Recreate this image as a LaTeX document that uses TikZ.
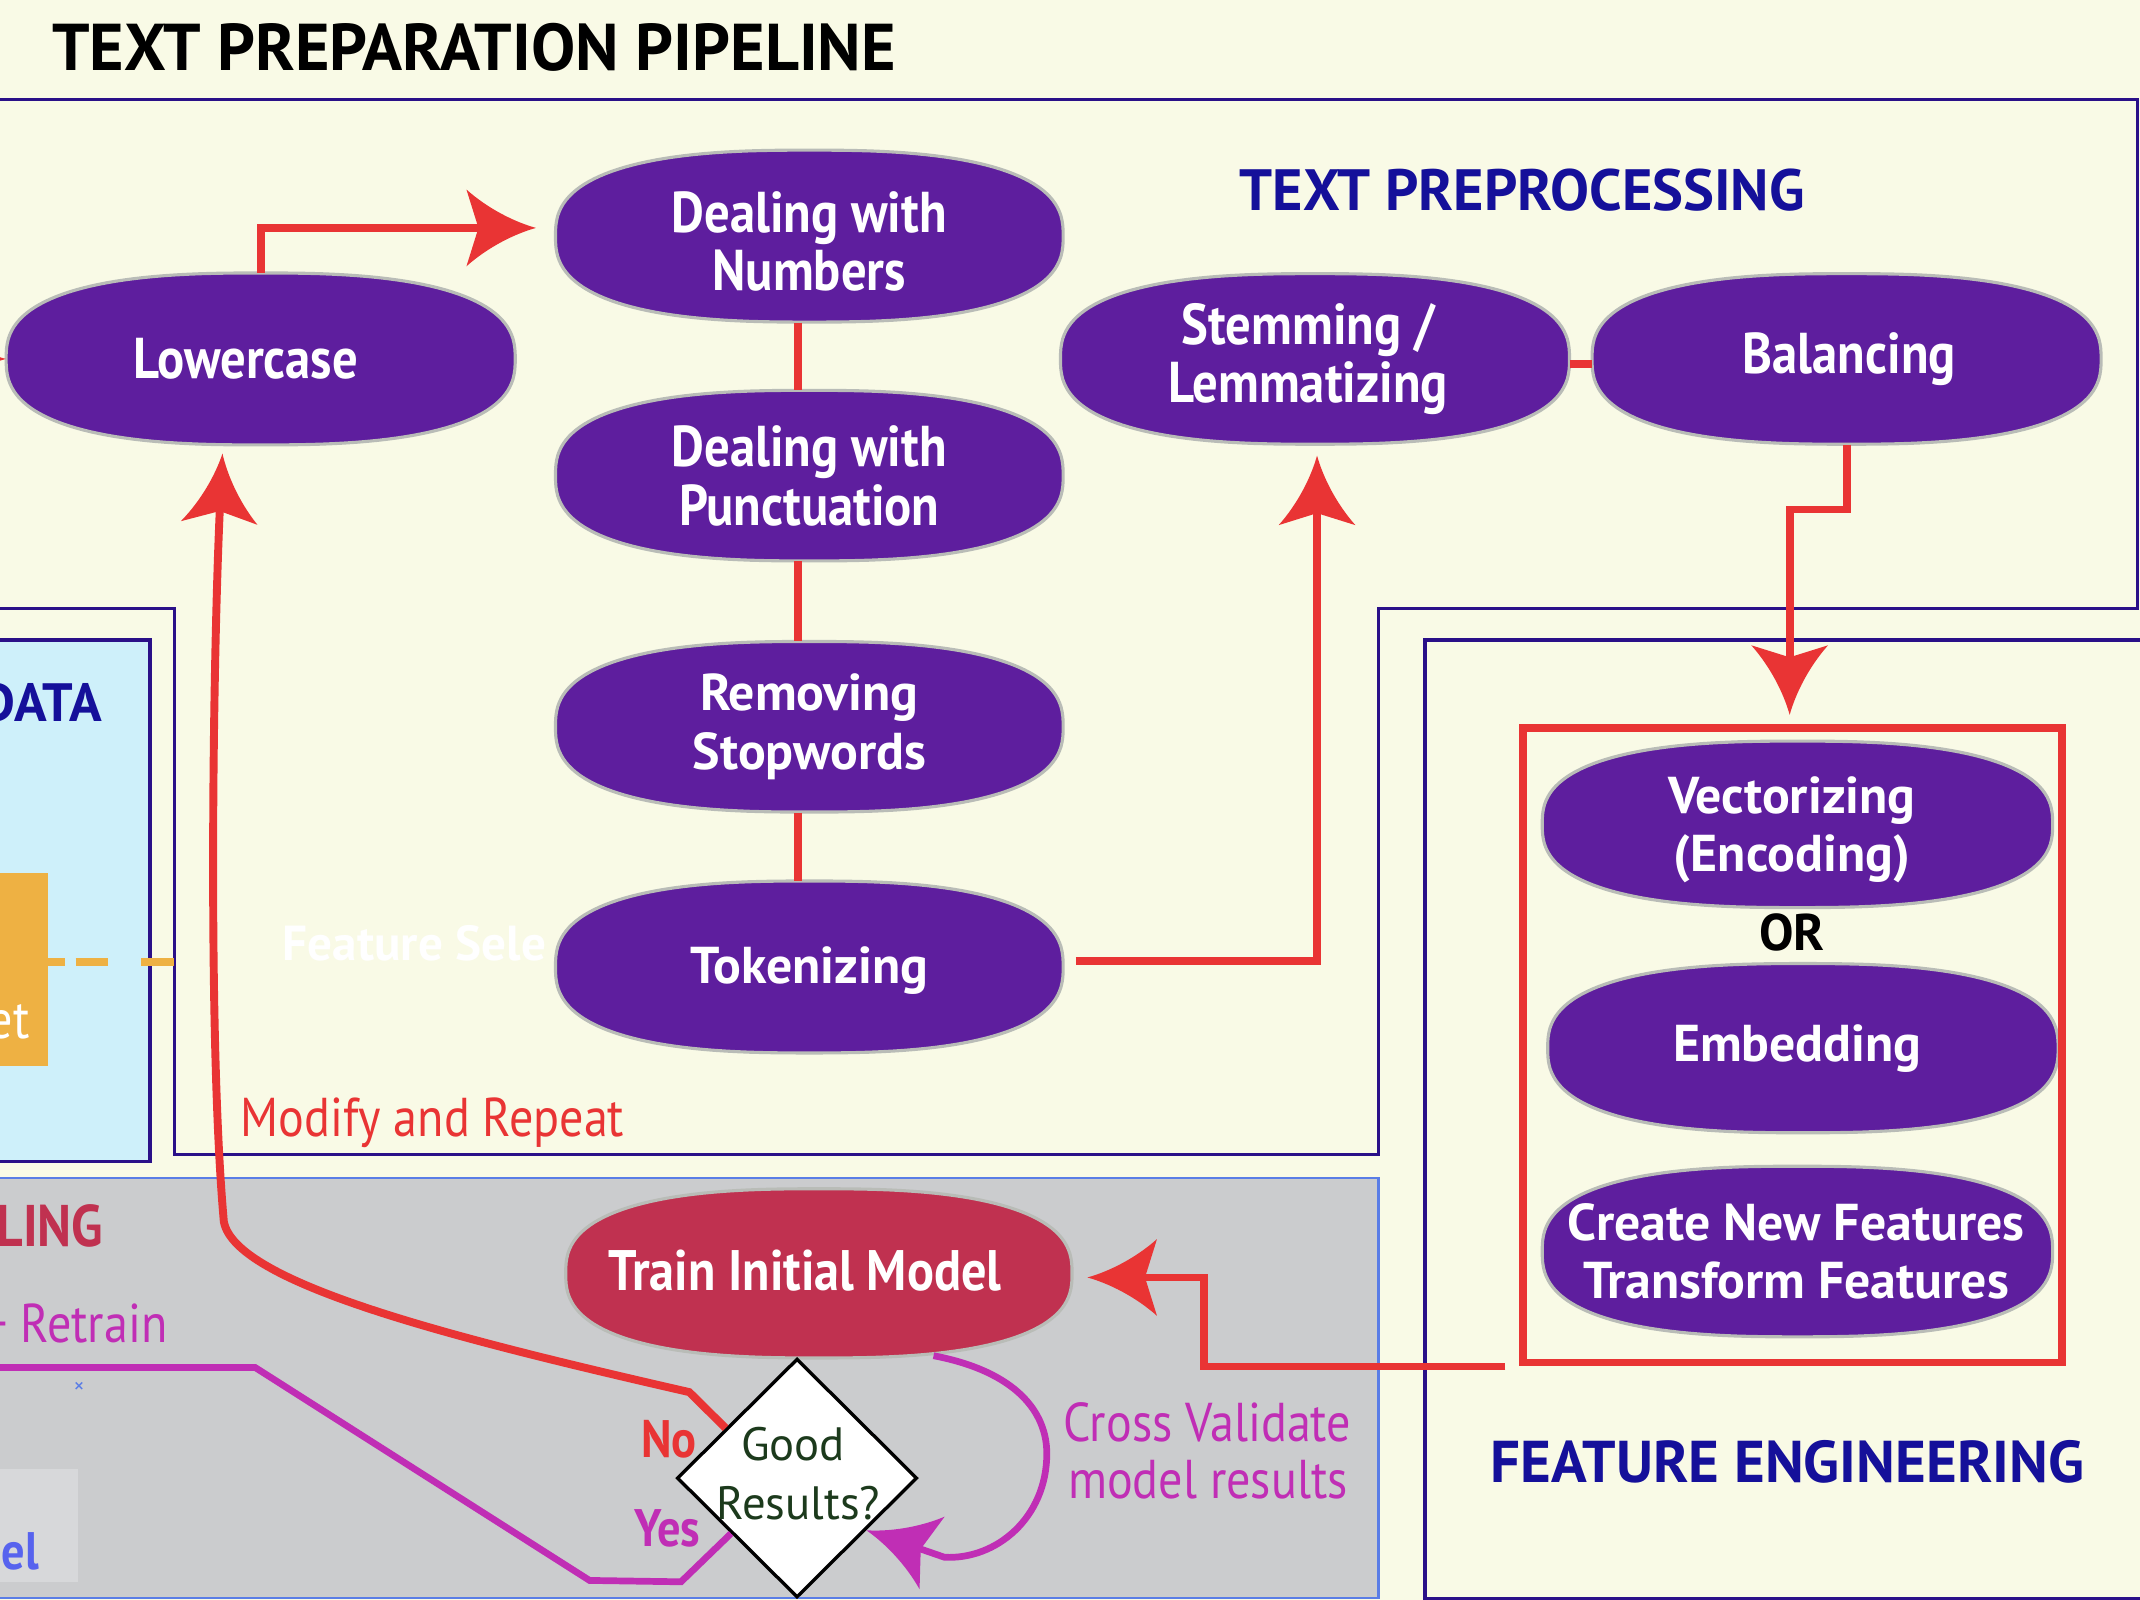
\documentclass[tikz,border=0pt]{standalone}
\usepackage{fontspec}
\setmainfont{PT Sans}
\newfontfamily\cf[FakeStretch=0.88]{PT Sans}
\usetikzlibrary{shapes.geometric,calc}

\definecolor{cream}{HTML}{F9FAE6}
\definecolor{navyline}{HTML}{2A1088}
\definecolor{navytext}{HTML}{15109A}
\definecolor{purp}{HTML}{5E1E9E}
\definecolor{blobedge}{HTML}{B9BCB7}
\definecolor{redc}{HTML}{E93434}
\definecolor{magc}{HTML}{C02EB5}
\definecolor{crim}{HTML}{C03150}
\definecolor{grayfill}{HTML}{CBCCCE}
\definecolor{grayedge}{HTML}{5A7DE6}
\definecolor{lblue}{HTML}{CEF0FA}
\definecolor{orng}{HTML}{EEB143}
\definecolor{dgreen}{HTML}{1C3A1C}
\definecolor{lgray}{HTML}{D7D8DA}
\definecolor{elblue}{HTML}{5763EE}

\pgfdeclarearrow{
  name = Flare,
  setup code = {
    \pgfarrowssettipend{0pt}
    \pgfarrowssetlineend{-21pt}
    \pgfarrowssetvisualbackend{-24pt}
    \pgfarrowssetbackend{-29pt}
    \pgfarrowshullpoint{0pt}{0pt}
    \pgfarrowshullpoint{-29pt}{16pt}
    \pgfarrowshullpoint{-29pt}{-16pt}
  },
  drawing code = {
    \pgfpathmoveto{\pgfqpoint{0pt}{0pt}}
    \pgfpathcurveto{\pgfqpoint{-9pt}{2.5pt}}{\pgfqpoint{-20pt}{8pt}}{\pgfqpoint{-29pt}{16pt}}
    \pgfpathlineto{\pgfqpoint{-24pt}{0pt}}
    \pgfpathlineto{\pgfqpoint{-29pt}{-16pt}}
    \pgfpathcurveto{\pgfqpoint{-20pt}{-8pt}}{\pgfqpoint{-9pt}{-2.5pt}}{\pgfqpoint{0pt}{0pt}}
    \pgfpathclose
    \pgfusepathqfill
  }
}

% #1 name, #2 x, #3 y, #4 half width, #5 half height, #6 shape style, #7 font style, #8 text, #9 text offset
\newcommand\blob[9]{%
  \path[#6] plot[variable=\t,domain=1.25:358.75,samples=144]
    ({#2+#4*sign(cos(\t))*abs(cos(\t))^0.77},{#3+#5*sign(sin(\t))*abs(sin(\t))^0.77}) -- cycle;
  \node[minimum width={#4*0.04cm},minimum height={#5*0.04cm}] (#1) at (#2,#3) {};
  \node[blobtext,#7] (#1-t) at ($(#1)+#9$) {#8};
}

\tikzset{
  boxline/.style={draw=navyline, line width=1.4pt},
  redconn/.style={color=redc, line width=3.3pt},
  redarrow/.style={redconn, -Flare},
  magconn/.style={color=magc, line width=2.8pt},
  blobtext/.style={text=white, align=center},
  purpblob/.style={fill=purp, draw=blobedge, line width=1.3pt},
  crimblob/.style={fill=crim, draw=blobedge, line width=1.3pt},
  cfont/.style={font=\cf\bfseries\fontsize{24}{24.5}\selectfont},
  wfont/.style={font=\bfseries\fontsize{21.6}{24.4}\selectfont},
  tfont/.style={font=\cf\bfseries\fontsize{23.8}{25}\selectfont},
  reglabel/.style={font=\cf\fontsize{22.8}{24}\selectfont},
  boldlabel/.style={font=\cf\bfseries\fontsize{22}{24}\selectfont},
}

\begin{document}
\begin{tikzpicture}[x=0.02cm, y=-0.02cm, every node/.style={inner sep=0pt}]
\useasboundingbox (0,0) rectangle (1568,1172);
\fill[cream] (0,0) rectangle (1568,1172);
\begin{scope}
\clip (0,0) rectangle (1568,1172);

% ---- frames
\draw[boxline] (-10,73) -- (1566,73) -- (1566,446) -- (1010,446) -- (1010,846) -- (128,846) -- (128,446) -- (-10,446);
\draw[boxline] (1044,469) rectangle (1600,1171);
\path[fill=lblue, boxline] (-10,469) rectangle (110,851);
\path[fill=grayfill, draw=grayedge, line width=0.9pt] (-10,863) rectangle (1010,1171);
\fill[lgray] (-5,1076) rectangle (57,1159);

% ---- data region
\node[fill=orng, minimum width={50*0.02cm}, minimum height={141*0.02cm}] (dset) at (10,710.5) {};
\node[anchor=base east, text=white, reglabel] (etlbl) at (22,761) {et};
\coordinate (fsend) at (128,705);
\draw[orng, line width=3.3pt, dash pattern=on 6.8pt off 4.6pt on 13.7pt off 13.7pt on 13.7pt off 5.7pt] ($(dset.east)+(0,-5.5)$) -- (fsend);
\node[anchor=east, text=navytext, font=\bfseries\fontsize{22.5}{24}\selectfont] (datalbl) at (75,515) {DATA};
\node[anchor=base west, text=white, font=\bfseries\fontsize{20.5}{24}\selectfont] (fslbl) at (207,703.5) {Feature Sele};

% ---- modeling region texts
\node[anchor=east, text=crim, font=\cf\bfseries\fontsize{24.5}{26}\selectfont] (modlbl) at (76,898) {LING};
\node[anchor=base east, text=magc, reglabel] (retrain) at (123,984) {+ Retrain};
\node[anchor=base east, text=elblue, boldlabel] (ellbl) at (29,1150) {el};
\node[text=grayedge, font=\fontsize{9}{10}\selectfont] (xmark) at (58,1017) {×};

% ---- headings
\node[anchor=west, font=\bfseries\fontsize{27.6}{30}\selectfont] (title) at (38,35) {TEXT PREPARATION PIPELINE};
\node[anchor=west, text=navytext, font=\bfseries\fontsize{24.3}{26}\selectfont] (tphead) at (908,139.5) {TEXT PREPROCESSING};
\node[anchor=west, text=navytext, font=\bfseries\fontsize{24.6}{26}\selectfont] (fehead) at (1092,1071) {FEATURE ENGINEERING};

% ---- blobs
\blob{low}{191}{263}{186.5}{63}{purpblob}{cfont}{Lowercase}{(-11,0)}
\blob{num}{593}{173}{186}{63}{purpblob}{cfont}{Dealing with\\Numbers}{(0,4)}
\blob{punct}{593}{348.5}{186}{62.5}{purpblob}{cfont}{Dealing with\\Punctuation}{(0,0)}
\blob{stop}{593}{532.5}{186}{62.5}{purpblob}{wfont}{Removing\\Stopwords}{(0,0)}
\blob{tok}{593}{708.5}{186}{63}{purpblob}{wfont}{Tokenizing}{(0,3)}
\blob{stem}{963.5}{263}{186.5}{62.5}{purpblob}{cfont}{Stemming /\\Lemmatizing}{(-5,0)}
\blob{bal}{1353}{263}{186.5}{62.5}{purpblob}{cfont}{Balancing}{(2,0)}
\blob{vec}{1317}{604}{187}{61}{purpblob}{wfont}{Vectorizing\\(Encoding)}{(-4,4)}
\blob{emb}{1321}{768}{187}{62}{purpblob}{wfont}{Embedding}{(-4,0)}
\blob{cnf}{1317}{917}{187}{62.5}{purpblob}{wfont}{Create New Features\\Transform Features}{(-1,0)}
\blob{train}{600}{933}{185.5}{62}{crimblob}{tfont}{Train Initial Model}{(-10,-2)}

\node[font=\bfseries\fontsize{21.5}{24}\selectfont] (orlbl) at (1313,683) {OR};

% ---- feature engineering group box
\node[draw=redc, line width=3.1pt, minimum width={395*0.02cm}, minimum height={465*0.02cm}] (feg) at (1313.3,766) {};

% ---- decision
\node[diamond, draw=black, fill=white, line width=1.4pt, minimum width={176*0.02cm}, minimum height={175*0.02cm}] (dia) at (584,1083) {};
\node[anchor=base, text=dgreen, font=\fontsize{19.5}{22}\selectfont] (good) at (581,1070) {Good};
\node[anchor=base, text=dgreen, font=\fontsize{19.5}{22}\selectfont] (results) at (585,1113) {Results?};

% ---- red connectors
\draw[redarrow] (-100,263) -- (low.west);
\draw[redarrow] (low.north) |- ($(num.west)+(-14,-6)$);
\draw[redconn] ($(num.south)+(-8,0)$) -- ($(punct.north)+(-8,0)$);
\draw[redconn] ($(punct.south)+(-8,0)$) -- ($(stop.north)+(-8,0)$);
\draw[redconn] ($(stop.south)+(-8,0)$) -- ($(tok.north)+(-8,0)$);
\draw[redarrow] ($(tok.east)+(9,-4.5)$) -| ($(stem.south)+(1.5,8)$);
\draw[redconn] ($(stem.east)+(0,4)$) -- ($(bal.west)+(0,4)$);
\draw[redarrow] (bal.south) -- ++(0,47.5) -| ($(feg.north)+(-2,-7)$);
\draw[redarrow] ($(feg.south west)+(-10,0)$) -- ++(-221,0) |- ($(train.east)+(11,3)$);
\draw[redarrow] (dia.145) -- (505,1020) .. controls (330,980) and (172,940) .. (164,895)
   .. controls (152,760) and (156,480) .. ($(low.south)+(-28,6)$);

% ---- magenta connectors
\draw[magconn] (dia.220) -- (499,1159) -- (432,1158) -- (187,1002) -- (-10,1002);
\draw[magconn, -Flare] ($(train.south)+(84,-2)$) .. controls (745,1005) and (767,1035) .. (767,1065)
   .. controls (767,1112) and (730,1143) .. (692,1141) -- (dia.-37);

% ---- labels
\node[anchor=base west, text=redc, reglabel] (modrep) at (176,833) {Modify and Repeat};
\node[anchor=base, text=magc, reglabel] (cv1) at (884.5,1056) {Cross Validate};
\node[anchor=base, text=magc, reglabel] (cv2) at (885,1098) {model results};
\node[anchor=base, text=redc, boldlabel] (nolbl) at (490,1068) {No};
\node[anchor=base, text=magc, boldlabel] (yeslbl) at (489,1133) {Yes};
\end{scope}
\end{tikzpicture}
\end{document}
